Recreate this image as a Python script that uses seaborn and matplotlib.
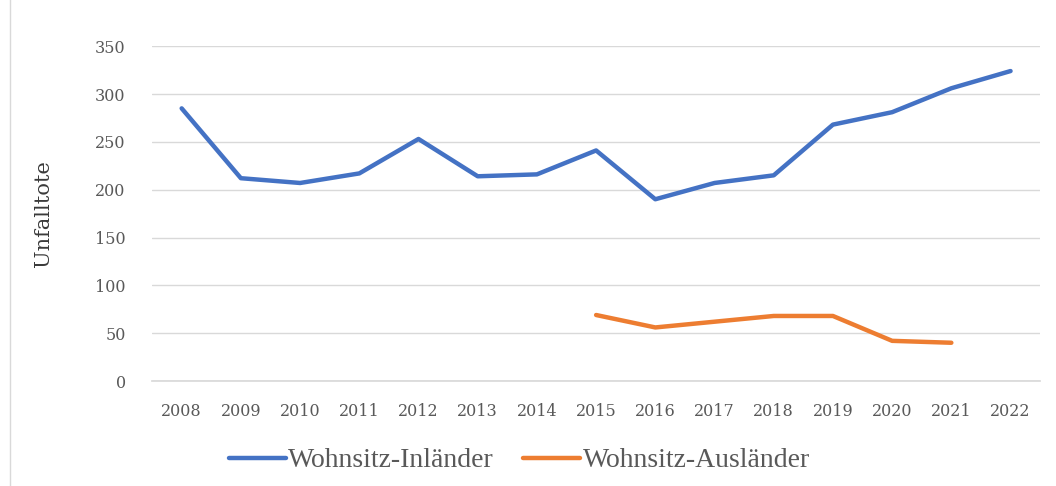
import numpy as np
import pandas as pd
import matplotlib
matplotlib.use("Agg")
import matplotlib.pyplot as plt
import seaborn as sns
from matplotlib.patches import Rectangle
from matplotlib.lines import Line2D

# Data
years = list(range(2008, 2023))
inlaender = [285, 212, 207, 217, 253, 214, 216, 241, 190, 207, 215, 268, 281, 306, 324]
auslaender_years = list(range(2015, 2022))
auslaender = [69, 56, 62, 68, 68, 42, 40]
series_names = ["Wohnsitz-Inländer", "Wohnsitz-Ausländer"]
colors = ["#4472C4", "#ED7D31"]

df = pd.concat([
    pd.DataFrame({"Jahr": years, "Unfalltote": inlaender, "Serie": series_names[0]}),
    pd.DataFrame({"Jahr": auslaender_years, "Unfalltote": auslaender, "Serie": series_names[1]}),
])

sns.set_theme(style="white")
plt.rcParams["font.family"] = ["DejaVu Serif", "Liberation Serif"]

fig = plt.figure(figsize=(10.56, 4.86), dpi=100)
ax = fig.add_axes([0.144, 0.216, 0.841, 0.689])

sns.lineplot(data=df, x="Jahr", y="Unfalltote", hue="Serie", palette=colors,
             linewidth=3.2, ax=ax, legend=False)

ax.set_xlim(2007.5, 2022.5)
ax.set_ylim(0, 350)
ax.set_yticks(np.arange(0, 351, 50))
ax.set_xticks(years)
ax.set_xticklabels([str(y) for y in years])
ax.grid(axis="y", color="#D9D9D9", linewidth=1)
ax.set_axisbelow(True)
for s in ["top", "right", "left"]:
    ax.spines[s].set_visible(False)
ax.spines["bottom"].set_color("#D9D9D9")
ax.tick_params(axis="both", length=0, labelsize=11.5, colors="#595959")
ax.tick_params(axis="y", pad=19)
ax.tick_params(axis="x", pad=16)
ax.set_xlabel("")
ax.set_ylabel("Unfalltote", fontsize=15, color="#3A3A3A", labelpad=30)

handles = [Line2D([0], [0], color=c, lw=3.2, solid_capstyle="round") for c in colors]
fig.legend(handles, series_names, loc="center", bbox_to_anchor=(0.492, 0.052), ncol=2,
           frameon=False, prop={"family": "Liberation Serif", "size": 20},
           handlelength=2.05, handletextpad=0.1, columnspacing=1.05,
           labelcolor="#595959")

fig.patches.append(Rectangle((0.009, -0.01), 1.0, 1.02, transform=fig.transFigure,
                             fill=False, edgecolor="#D9D9D9", linewidth=1))

fig.savefig("out.png", dpi=100)
